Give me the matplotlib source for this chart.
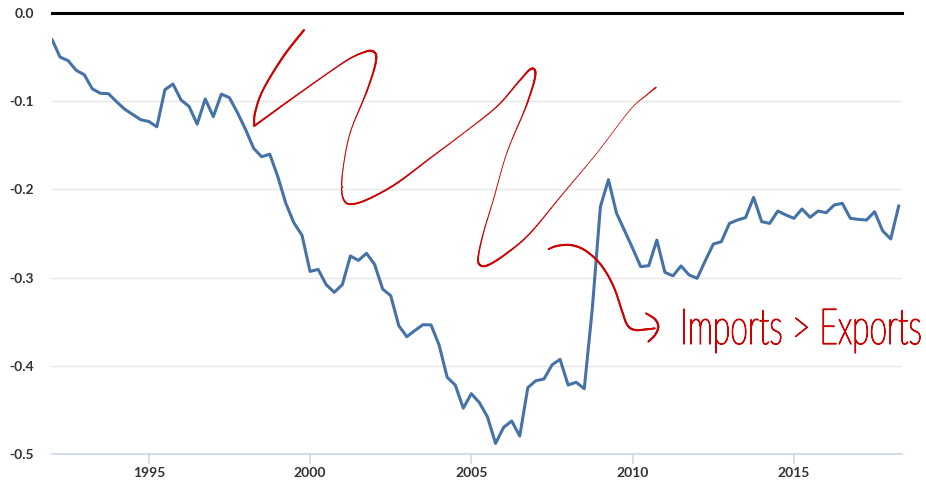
import numpy as np
import pandas as pd
import matplotlib
matplotlib.use("Agg")
import matplotlib.pyplot as plt
from matplotlib.collections import LineCollection
from matplotlib.transforms import Affine2D
from matplotlib.patheffects import AbstractPathEffect

# ---------------- data ----------------
quarters = pd.period_range("1992Q1", "2018Q2", freq="Q")
balance = [
    -0.030, -0.050, -0.054, -0.065, -0.070, -0.086, -0.091, -0.0915, -0.1005, -0.109,
    -0.115, -0.121, -0.123, -0.129, -0.087, -0.0805, -0.0986, -0.106, -0.126, -0.0975,
    -0.1175, -0.092, -0.096, -0.113, -0.132, -0.1534, -0.163, -0.160, -0.1855, -0.216,
    -0.238, -0.252, -0.293, -0.2907, -0.308, -0.3167, -0.308, -0.2755, -0.2805, -0.2725,
    -0.285, -0.313, -0.3205, -0.3545, -0.367, -0.360, -0.3534, -0.3537, -0.3764, -0.413,
    -0.4218, -0.448, -0.4316, -0.4418, -0.458, -0.488, -0.4698, -0.4626, -0.4796, -0.4248,
    -0.4169, -0.415, -0.399, -0.3927, -0.4218, -0.4187, -0.426, -0.335, -0.2196, -0.189,
    -0.227, -0.2468, -0.2668, -0.2876, -0.2865, -0.2574, -0.294, -0.298, -0.2868, -0.297,
    -0.3008, -0.281, -0.262, -0.2593, -0.2385, -0.2347, -0.232, -0.209, -0.2366, -0.2385,
    -0.2245, -0.229, -0.2328, -0.2222, -0.2317, -0.2245, -0.2264, -0.2177, -0.2158, -0.2328,
    -0.234, -0.2347, -0.2253, -0.247, -0.2562, -0.2185,
]
ytick_values = [0.0, -0.1, -0.2, -0.3, -0.4, -0.5]
ytick_labels = ["0.0", "-0.1", "-0.2", "-0.3", "-0.4", "-0.5"]
xtick_years = [1995, 2000, 2005, 2010, 2015]
annotation_text = "Imports > Exports"

x = np.asarray(quarters.year + (quarters.quarter - 1) / 4.0, dtype=float)

W, H = 926, 480
fig = plt.figure(figsize=(W / 100, H / 100), dpi=100)
ax = fig.add_axes([52 / W, 1 - 454 / H, 850 / W, 441 / H])

ax.plot(x, balance, color="#4572A7", lw=2.2, solid_joinstyle="round",
        solid_capstyle="round", zorder=3)
ax.set_xlim(x[0], x[-1] + 0.1)
ax.set_ylim(-0.5, 0.0)

for s in ["top", "left", "right"]:
    ax.spines[s].set_visible(False)
ax.spines["bottom"].set_color("#ccd6eb")
ax.spines["bottom"].set_linewidth(1.2)
ax.spines["bottom"].set_zorder(2)

ax.set_yticks(ytick_values)
ax.set_yticklabels(ytick_labels)
ax.set_xticks(xtick_years)
ax.set_xticklabels([str(y) for y in xtick_years])
ax.yaxis.grid(True, color="#e6e6e6", lw=1.0, zorder=0)
ax.set_axisbelow(True)
ax.axhline(0.0, color="black", lw=2.2, clip_on=False, zorder=4)

ax.tick_params(axis="y", length=0, pad=13, labelsize=10, labelcolor="#333333")
ax.tick_params(axis="x", direction="out", length=7, width=1.1, color="#ccd6eb",
               pad=2.5, labelsize=10, labelcolor="#333333")
for lab in ax.get_xticklabels() + ax.get_yticklabels():
    lab.set_family(["Lato", "DejaVu Sans"])
    lab.set_fontweight("bold")

# ---------------- hand-drawn annotation ----------------
RED = "#d00000"
pix = Affine2D().scale(1 / W, -1 / H).translate(0, 1) + fig.transFigure


def catmull(pts, n=14):
    P = np.asarray(pts, float)
    P = np.vstack([P[0], P, P[-1]])
    out = []
    t = np.linspace(0, 1, n, endpoint=False)[:, None]
    for i in range(1, len(P) - 2):
        p0, p1, p2, p3 = P[i - 1], P[i], P[i + 1], P[i + 2]
        out.append(0.5 * ((2 * p1) + (-p0 + p2) * t
                          + (2 * p0 - 5 * p1 + 4 * p2 - p3) * t ** 2
                          + (-p0 + 3 * p1 - 3 * p2 + p3) * t ** 3))
    out.append(P[-2][None])
    return np.vstack(out)


def stroke(ctrl, n=14):
    pts = [c[:2] for c in ctrl]
    wid = np.array([c[2] for c in ctrl], float)
    curve = catmull(pts, n)
    u = np.linspace(0, len(pts) - 1, len(curve))
    w = np.interp(u, np.arange(len(pts)), wid)
    segs = np.stack([curve[:-1], curve[1:]], axis=1)
    lw = 0.5 * (w[:-1] + w[1:]) * 0.72
    lc = LineCollection(segs, linewidths=lw, colors=RED, capstyle="round",
                        joinstyle="round", transform=pix, zorder=6)
    fig.add_artist(lc)


stroke([(304, 30, 2.2), (283, 57, 2.2), (263, 90, 2.0), (255, 113, 2.0), (254.3, 126, 2.0)])
stroke([
    (254.3, 126, 2.0), (290, 100, 1.6), (330, 71.7, 1.3), (350, 58.5, 1.5),
    (364, 52.2, 1.8), (371.7, 50.9, 2.0), (376.2, 55.5, 2.0), (374.5, 68, 1.9),
    (368, 88, 1.6), (363.3, 100, 1.4), (350, 133.3, 1.0), (343.3, 166.7, 1.0), (341.7, 190, 1.3),
    (345, 201.7, 1.6), (353.3, 204, 1.8), (370, 198.3, 1.8), (396.7, 183.3, 1.8),
    (430, 158.3, 1.4), (463.3, 133.3, 1.0), (496.7, 106.7, 1.3), (518, 82.5, 1.6),
    (530, 69.5, 2.0), (535, 70.5, 2.0), (534.5, 80, 1.9), (529, 98, 1.6), (523.3, 113.3, 1.3),
    (506.7, 153.3, 0.9), (493.3, 200, 0.9), (483.3, 233.3, 1.2), (478.3, 256.7, 1.6),
    (480, 265, 2.0), (488.3, 265, 2.0), (506.7, 253.3, 1.8), (530, 233.3, 1.4),
    (563.3, 193.3, 1.0), (596.7, 153.3, 0.7), (630, 110, 0.7), (646.7, 95, 1.0),
    (656, 87.3, 1.4),
])
stroke([
    (548.3, 249.3, 1.5), (556.7, 246, 2.0), (570, 245, 2.0), (583.3, 249.3, 2.0),
    (596.7, 260, 2.0), (606.7, 273.3, 2.0), (615, 290, 2.0), (621.7, 310, 2.0),
    (627.3, 325, 2.0), (635, 330, 2.0), (646.7, 329.3, 2.0), (655, 328.3, 1.6),
])
stroke([(646, 313.3, 1.8), (655, 319.3, 2.0), (658.3, 326.7, 2.0), (655, 335, 2.0),
        (648.3, 341.7, 1.8)])


class HStretch(AbstractPathEffect):
    """Squeeze glyph outlines horizontally and add a thin pen stroke."""

    def __init__(self, text, sx, pen=0.7):
        super().__init__()
        self.text = text
        self.sx = sx
        self.pen = pen

    def draw_path(self, renderer, gc, tpath, affine, rgbFace=None):
        x0 = self.text.get_transform().transform(self.text.get_position())[0]
        aff = affine + Affine2D().translate(-x0, 0).scale(self.sx, 1).translate(x0, 0)
        gc0 = renderer.new_gc()
        gc0.copy_properties(gc)
        gc0.set_linewidth(self.pen)
        gc0.set_foreground(rgbFace)
        gc0.set_joinstyle("round")
        renderer.draw_path(gc0, tpath, aff, rgbFace)
        gc0.restore()


t = fig.text(922 / W, 1 - 344 / H, annotation_text, ha="right", va="baseline",
             fontsize=36, family=["Lato", "DejaVu Sans"], fontweight="light",
             color=RED, zorder=7)
fig.canvas.draw()
natural = t.get_window_extent().width
t.set_path_effects([HStretch(t, 242.0 / natural, pen=0.9)])

fig.savefig("out.png", dpi=100)
